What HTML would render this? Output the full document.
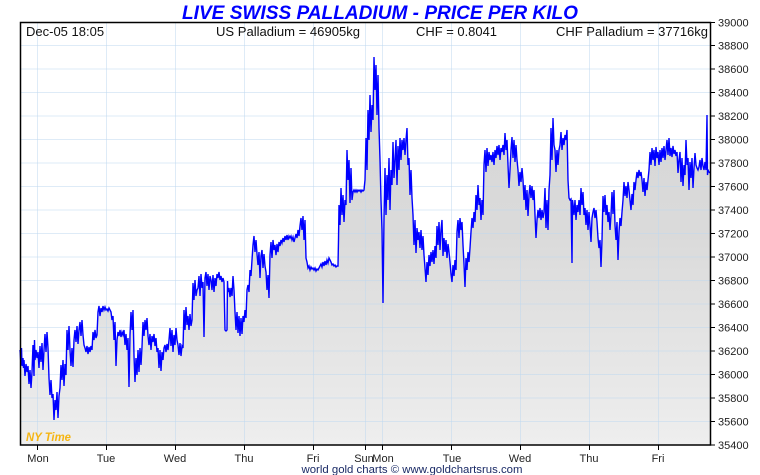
<!DOCTYPE html>
<html><head><meta charset="utf-8"><style>
html,body{margin:0;padding:0;background:#fff;}
svg{display:block;}
text{font-family:"Liberation Sans",Arial,sans-serif;}
</style></head><body>
<svg width="760" height="475" viewBox="0 0 760 475" xmlns="http://www.w3.org/2000/svg">
<defs>
<linearGradient id="g" gradientUnits="userSpaceOnUse" x1="0" y1="60" x2="0" y2="445">
<stop offset="0" stop-color="#d6d6d6"/>
<stop offset="0.45" stop-color="#dadada"/>
<stop offset="1" stop-color="#eeeeee"/>
</linearGradient>
</defs>
<rect width="760" height="475" fill="#fff"/>
<text x="380" y="19" text-anchor="middle" font-size="19" font-weight="bold" font-style="italic" fill="#0000ff" textLength="396" lengthAdjust="spacingAndGlyphs">LIVE SWISS PALLADIUM - PRICE PER KILO</text>

<polygon fill="url(#g)" points="20,445 20,350 21,365 21.5,348 22,366 23,358 23.5,368 24,360 25,376 26,364 27,372 28,366 29,384 30,370 31,388 32,372 33,345 34,376 34.5,340 35,360 36,350 37,358 38,352 39,368 40,346 41,362 42,343 43,370 44,350 45,334 46,352 47,332 48,348 49,378 50,395 51,380 52,398 53,394 54,420 55,400 56,410 57,392 58,418 59,396 60,388 61,365 62,380 63,360 64,386 65,364 66,375 67,330 68,350 69,326 70,350 71,366 72,348 73,367 74,340 75,330 76,342 77,326 78,344 79,330 80,322 81,336 82,320 83,335 84,345 85,348 86,352 87,346 88,354 89,347 90,352 91,346 92,350 93,332 94,340 95,330 96,338 97,335 98,312 99,306 100,316 101,308 102,312 103,306 104,310 105,307 106,310 107,309 108,311 109,308 110,310 111,312 112,320 113,316 114,340 115,322 116,366 117,340 118,332 119,336 120,330 121,337 122,332 123,335 124,330 125,345 126,334 127,350 128,338 129,387 130,335 131,312 132,330 133,310 134,356 135,382 136,358 137,375 138,350 139,372 140,348 141,365 142,347 143,322 144,336 145,320 146,330 147,318 148,336 149,345 150,334 151,350 152,336 153,342 154,334 155,346 156,338 157,352 158,348 159,368 160,350 161,371 162,352 163,360 164,348 165,345 166,352 167,344 168,350 169,340 170,328 171,346 172,330 173,352 174,335 175,345 176,328 177,340 178,345 179,355 180,343 181,356 182,346 183,348 184,310 185,330 186,307 187,325 188,316 189,330 190,314 191,326 192,320 193,283 194,300 195,280 196,296 197,290 198,288 199,276 200,296 201,274 202,288 203,282 204,337 205,278 206,272 207,286 208,274 209,290 210,276 211,280 212,290 213,275 214,292 215,278 216,286 217,274 218,278 219,272 220,280 221,276 222,282 223,278 224,282 225,330 226,331 227,330 227.5,281 228,292 229,288 230,297 231,288 232,296 233,276 234,290 235,312 236,330 237,312 238,333 239,316 240,336 241,318 242,334 243,316 244,322 245,310 246,318 247,290 248,285 249,292 250,270 251,276 252,260 253,245 254,236 255,252 256,240 257,254 258,265 259,252 260,278 261,256 262,250 263,268 264,254 265,266 266,272 267,290 268,275 269,298 270,255 271,242 272,258 273,240 274,250 275,245 276,255 277,244 278,252 279,242 280,246 281,240 282,243 283,238 284,242 285,236 286,240 287,235 288,240 289,236 290,238 291,236 292,240 293,237 294,242 295,238 296,234 297,238 298,230 299,236 300,226 301,218 302,230 303,216 304,240 305,220 306,258 307,262 308,268 309,266 310,270 311,267 312,269 313,268 314,270 315,268 316,271 317,269 318,270 319,268 320,266 321,264 322,267 323,262 324,266 325,261 326,265 327,260 328,263 329,258 330,260 331,262 332,265 333,264 334,266 335,265 336,267 337,266 338,266 338.5,240 339,205 340,225 341,188 342,215 343,195 344,222 345,200 346,205 347,150 348,180 349,160 350,203 351,168 352,200 353,192 354,190 355,192 356,190 357,192 358,190 359,191 360,190 361,192 362,190 363,191 364,190 365,180 366,138 367,170 368,110 369,140 370,95 371,132 372,105 373,120 374,57 375,90 376,65 377,115 378,75 379,128 380,160 381,200 382,230 383,303 384,218 385,168 386,215 387,175 388,200 389,158 390,210 391,170 392,185 393,142 394,178 395,160 396,140 397,185 398,146 399,170 400,138 401,160 402,140 403,150 404,138 405,155 406,140 407,128 408,165 409,158 410,195 411,170 412,198 413,215 414,245 415,220 416,253 417,228 418,240 419,232 420,248 421,230 422,250 423,236 424,255 425,268 426,282 427,262 428,275 429,255 430,266 431,252 432,262 433,250 434,264 435,246 436,258 437,226 438,245 439,222 440,250 441,230 442,220 443,256 444,238 445,252 446,240 447,258 448,244 449,252 450,262 451,274 452,282 453,265 454,276 455,260 456,270 457,232 458,220 459,238 460,218 461,230 462,222 463,245 464,264 465,287 466,258 467,270 468,252 469,262 470,248 471,232 472,218 473,228 474,212 475,222 476,195 477,210 478,185 479,205 480,198 481,220 482,200 483,215 484,165 485,150 486,172 487,148 488,166 489,152 490,160 491,155 492,162 493,152 494,165 495,150 496,158 497,146 498,155 499,145 500,160 501,148 502,152 503,145 504,155 505,133 506,150 507,140 508,165 509,188 510,170 511,150 512,137 513,158 514,140 515,162 516,145 517,160 518,170 519,186 520,172 521,182 522,168 523,180 524,200 525,185 526,210 527,190 528,216 529,195 530,185 531,198 532,186 533,200 534,190 535,215 536,238 537,220 538,210 539,218 540,208 541,220 542,210 543,218 544,212 545,188 546,228 547,200 548,230 549,190 550,175 551,128 552,160 553,118 554,145 555,150 556,172 557,150 558,165 559,150 560,145 561,132 562,150 563,138 564,145 565,135 566,140 567,130 568,180 569,198 570,200 571,199 572,263 572.5,200 573,204 574,215 575,200 576,220 577,205 578,212 579,200 580,215 581,188 582,205 583,192 584,215 585,208 586,225 587,210 588,230 589,212 590,226 591,242 592,218 593,212 594,208 595,218 596,210 597,222 598,238 599,248 600,240 601,267 602,240 603,196 604,212 605,195 606,215 607,205 608,222 609,212 610,230 611,215 612,192 613,214 614,190 615,225 616,240 617,222 618,260 619,232 620,218 621,226 622,212 623,200 624,182 625,196 626,186 627,198 628,182 629,190 630,200 631,210 632,194 633,205 634,182 635,190 636,180 637,172 638,178 639,170 640,176 641,172 642,180 643,192 644,178 645,196 646,182 647,190 648,180 649,170 650,152 651,165 652,148 653,160 654,150 655,166 656,147 657,158 658,152 659,165 660,150 661,162 662,148 663,158 664,146 665,160 666,150 667,140 668,155 669,138 670,156 671,148 672,157 673,146 674,154 675,150 676,156 677,152 678,173 679,160 680,152 681,182 682,158 683,186 684,165 685,175 686,140 687,165 688,158 689,190 690,162 691,178 692,158 693,188 694,168 695,153 696,165 697,168 698,170 699,167 700,160 701,170 702,158 703,166 704,170 705,162 706,170 707,115 707.5,175 708,170 709,172 710,173 710,445"/>

<g stroke="rgba(190,215,240,0.5)" stroke-width="1">
<line x1="20" y1="45.5" x2="710" y2="45.5"/>
<line x1="20" y1="69" x2="710" y2="69"/>
<line x1="20" y1="92.5" x2="710" y2="92.5"/>
<line x1="20" y1="116" x2="710" y2="116"/>
<line x1="20" y1="139.5" x2="710" y2="139.5"/>
<line x1="20" y1="163" x2="710" y2="163"/>
<line x1="20" y1="186.5" x2="710" y2="186.5"/>
<line x1="20" y1="210" x2="710" y2="210"/>
<line x1="20" y1="233.5" x2="710" y2="233.5"/>
<line x1="20" y1="257" x2="710" y2="257"/>
<line x1="20" y1="280.5" x2="710" y2="280.5"/>
<line x1="20" y1="304" x2="710" y2="304"/>
<line x1="20" y1="327.5" x2="710" y2="327.5"/>
<line x1="20" y1="351" x2="710" y2="351"/>
<line x1="20" y1="374.5" x2="710" y2="374.5"/>
<line x1="20" y1="398" x2="710" y2="398"/>
<line x1="20" y1="421.5" x2="710" y2="421.5"/>
<line x1="37.5" y1="22" x2="37.5" y2="445"/>
<line x1="106.5" y1="22" x2="106.5" y2="445"/>
<line x1="175.5" y1="22" x2="175.5" y2="445"/>
<line x1="244.5" y1="22" x2="244.5" y2="445"/>
<line x1="313.5" y1="22" x2="313.5" y2="445"/>
<line x1="365.5" y1="22" x2="365.5" y2="445"/>
<line x1="382.5" y1="22" x2="382.5" y2="445"/>
<line x1="451.5" y1="22" x2="451.5" y2="445"/>
<line x1="520.5" y1="22" x2="520.5" y2="445"/>
<line x1="589.5" y1="22" x2="589.5" y2="445"/>
<line x1="658.5" y1="22" x2="658.5" y2="445"/>
</g>

<polyline fill="none" stroke="#0000ff" stroke-width="1.4" stroke-linejoin="miter" points="20,350 21,365 21.5,348 22,366 23,358 23.5,368 24,360 25,376 26,364 27,372 28,366 29,384 30,370 31,388 32,372 33,345 34,376 34.5,340 35,360 36,350 37,358 38,352 39,368 40,346 41,362 42,343 43,370 44,350 45,334 46,352 47,332 48,348 49,378 50,395 51,380 52,398 53,394 54,420 55,400 56,410 57,392 58,418 59,396 60,388 61,365 62,380 63,360 64,386 65,364 66,375 67,330 68,350 69,326 70,350 71,366 72,348 73,367 74,340 75,330 76,342 77,326 78,344 79,330 80,322 81,336 82,320 83,335 84,345 85,348 86,352 87,346 88,354 89,347 90,352 91,346 92,350 93,332 94,340 95,330 96,338 97,335 98,312 99,306 100,316 101,308 102,312 103,306 104,310 105,307 106,310 107,309 108,311 109,308 110,310 111,312 112,320 113,316 114,340 115,322 116,366 117,340 118,332 119,336 120,330 121,337 122,332 123,335 124,330 125,345 126,334 127,350 128,338 129,387 130,335 131,312 132,330 133,310 134,356 135,382 136,358 137,375 138,350 139,372 140,348 141,365 142,347 143,322 144,336 145,320 146,330 147,318 148,336 149,345 150,334 151,350 152,336 153,342 154,334 155,346 156,338 157,352 158,348 159,368 160,350 161,371 162,352 163,360 164,348 165,345 166,352 167,344 168,350 169,340 170,328 171,346 172,330 173,352 174,335 175,345 176,328 177,340 178,345 179,355 180,343 181,356 182,346 183,348 184,310 185,330 186,307 187,325 188,316 189,330 190,314 191,326 192,320 193,283 194,300 195,280 196,296 197,290 198,288 199,276 200,296 201,274 202,288 203,282 204,337 205,278 206,272 207,286 208,274 209,290 210,276 211,280 212,290 213,275 214,292 215,278 216,286 217,274 218,278 219,272 220,280 221,276 222,282 223,278 224,282 225,330 226,331 227,330 227.5,281 228,292 229,288 230,297 231,288 232,296 233,276 234,290 235,312 236,330 237,312 238,333 239,316 240,336 241,318 242,334 243,316 244,322 245,310 246,318 247,290 248,285 249,292 250,270 251,276 252,260 253,245 254,236 255,252 256,240 257,254 258,265 259,252 260,278 261,256 262,250 263,268 264,254 265,266 266,272 267,290 268,275 269,298 270,255 271,242 272,258 273,240 274,250 275,245 276,255 277,244 278,252 279,242 280,246 281,240 282,243 283,238 284,242 285,236 286,240 287,235 288,240 289,236 290,238 291,236 292,240 293,237 294,242 295,238 296,234 297,238 298,230 299,236 300,226 301,218 302,230 303,216 304,240 305,220 306,258 307,262 308,268 309,266 310,270 311,267 312,269 313,268 314,270 315,268 316,271 317,269 318,270 319,268 320,266 321,264 322,267 323,262 324,266 325,261 326,265 327,260 328,263 329,258 330,260 331,262 332,265 333,264 334,266 335,265 336,267 337,266 338,266 338.5,240 339,205 340,225 341,188 342,215 343,195 344,222 345,200 346,205 347,150 348,180 349,160 350,203 351,168 352,200 353,192 354,190 355,192 356,190 357,192 358,190 359,191 360,190 361,192 362,190 363,191 364,190 365,180 366,138 367,170 368,110 369,140 370,95 371,132 372,105 373,120 374,57 375,90 376,65 377,115 378,75 379,128 380,160 381,200 382,230 383,303 384,218 385,168 386,215 387,175 388,200 389,158 390,210 391,170 392,185 393,142 394,178 395,160 396,140 397,185 398,146 399,170 400,138 401,160 402,140 403,150 404,138 405,155 406,140 407,128 408,165 409,158 410,195 411,170 412,198 413,215 414,245 415,220 416,253 417,228 418,240 419,232 420,248 421,230 422,250 423,236 424,255 425,268 426,282 427,262 428,275 429,255 430,266 431,252 432,262 433,250 434,264 435,246 436,258 437,226 438,245 439,222 440,250 441,230 442,220 443,256 444,238 445,252 446,240 447,258 448,244 449,252 450,262 451,274 452,282 453,265 454,276 455,260 456,270 457,232 458,220 459,238 460,218 461,230 462,222 463,245 464,264 465,287 466,258 467,270 468,252 469,262 470,248 471,232 472,218 473,228 474,212 475,222 476,195 477,210 478,185 479,205 480,198 481,220 482,200 483,215 484,165 485,150 486,172 487,148 488,166 489,152 490,160 491,155 492,162 493,152 494,165 495,150 496,158 497,146 498,155 499,145 500,160 501,148 502,152 503,145 504,155 505,133 506,150 507,140 508,165 509,188 510,170 511,150 512,137 513,158 514,140 515,162 516,145 517,160 518,170 519,186 520,172 521,182 522,168 523,180 524,200 525,185 526,210 527,190 528,216 529,195 530,185 531,198 532,186 533,200 534,190 535,215 536,238 537,220 538,210 539,218 540,208 541,220 542,210 543,218 544,212 545,188 546,228 547,200 548,230 549,190 550,175 551,128 552,160 553,118 554,145 555,150 556,172 557,150 558,165 559,150 560,145 561,132 562,150 563,138 564,145 565,135 566,140 567,130 568,180 569,198 570,200 571,199 572,263 572.5,200 573,204 574,215 575,200 576,220 577,205 578,212 579,200 580,215 581,188 582,205 583,192 584,215 585,208 586,225 587,210 588,230 589,212 590,226 591,242 592,218 593,212 594,208 595,218 596,210 597,222 598,238 599,248 600,240 601,267 602,240 603,196 604,212 605,195 606,215 607,205 608,222 609,212 610,230 611,215 612,192 613,214 614,190 615,225 616,240 617,222 618,260 619,232 620,218 621,226 622,212 623,200 624,182 625,196 626,186 627,198 628,182 629,190 630,200 631,210 632,194 633,205 634,182 635,190 636,180 637,172 638,178 639,170 640,176 641,172 642,180 643,192 644,178 645,196 646,182 647,190 648,180 649,170 650,152 651,165 652,148 653,160 654,150 655,166 656,147 657,158 658,152 659,165 660,150 661,162 662,148 663,158 664,146 665,160 666,150 667,140 668,155 669,138 670,156 671,148 672,157 673,146 674,154 675,150 676,156 677,152 678,173 679,160 680,152 681,182 682,158 683,186 684,165 685,175 686,140 687,165 688,158 689,190 690,162 691,178 692,158 693,188 694,168 695,153 696,165 697,168 698,170 699,167 700,160 701,170 702,158 703,166 704,170 705,162 706,170 707,115 707.5,175 708,170 709,172 710,173"/>

<rect x="20.5" y="22.5" width="690" height="422.5" fill="none" stroke="#000" stroke-width="1.5"/>

<g font-size="13" fill="#111">
<text x="26" y="36">Dec-05  18:05</text>
<text x="216" y="36" textLength="144" lengthAdjust="spacingAndGlyphs">US Palladium = 46905kg</text>
<text x="416" y="36" textLength="81" lengthAdjust="spacingAndGlyphs">CHF = 0.8041</text>
<text x="556" y="36" textLength="152" lengthAdjust="spacingAndGlyphs">CHF Palladium = 37716kg</text>
</g>

<g stroke="#000" stroke-width="1">
<line x1="710" y1="22.5" x2="715" y2="22.5"/>
<line x1="710" y1="45.5" x2="715" y2="45.5"/>
<line x1="710" y1="69" x2="715" y2="69"/>
<line x1="710" y1="92.5" x2="715" y2="92.5"/>
<line x1="710" y1="116" x2="715" y2="116"/>
<line x1="710" y1="139.5" x2="715" y2="139.5"/>
<line x1="710" y1="163" x2="715" y2="163"/>
<line x1="710" y1="186.5" x2="715" y2="186.5"/>
<line x1="710" y1="210" x2="715" y2="210"/>
<line x1="710" y1="233.5" x2="715" y2="233.5"/>
<line x1="710" y1="257" x2="715" y2="257"/>
<line x1="710" y1="280.5" x2="715" y2="280.5"/>
<line x1="710" y1="304" x2="715" y2="304"/>
<line x1="710" y1="327.5" x2="715" y2="327.5"/>
<line x1="710" y1="351" x2="715" y2="351"/>
<line x1="710" y1="374.5" x2="715" y2="374.5"/>
<line x1="710" y1="398" x2="715" y2="398"/>
<line x1="710" y1="421.5" x2="715" y2="421.5"/>
<line x1="710" y1="445" x2="715" y2="445"/>
<line x1="37.5" y1="445" x2="37.5" y2="450"/>
<line x1="106.5" y1="445" x2="106.5" y2="450"/>
<line x1="175.5" y1="445" x2="175.5" y2="450"/>
<line x1="244.5" y1="445" x2="244.5" y2="450"/>
<line x1="313.5" y1="445" x2="313.5" y2="450"/>
<line x1="365.5" y1="445" x2="365.5" y2="450"/>
<line x1="382.5" y1="445" x2="382.5" y2="450"/>
<line x1="451.5" y1="445" x2="451.5" y2="450"/>
<line x1="520.5" y1="445" x2="520.5" y2="450"/>
<line x1="589.5" y1="445" x2="589.5" y2="450"/>
<line x1="658.5" y1="445" x2="658.5" y2="450"/>
</g>

<g font-size="11" fill="#222">
<text x="718" y="26.5">39000</text>
<text x="718" y="49.5">38800</text>
<text x="718" y="73">38600</text>
<text x="718" y="96.5">38400</text>
<text x="718" y="120">38200</text>
<text x="718" y="143.5">38000</text>
<text x="718" y="167">37800</text>
<text x="718" y="190.5">37600</text>
<text x="718" y="214">37400</text>
<text x="718" y="237.5">37200</text>
<text x="718" y="261">37000</text>
<text x="718" y="284.5">36800</text>
<text x="718" y="308">36600</text>
<text x="718" y="331.5">36400</text>
<text x="718" y="355">36200</text>
<text x="718" y="378.5">36000</text>
<text x="718" y="402">35800</text>
<text x="718" y="425.5">35600</text>
<text x="718" y="449">35400</text>
</g>

<g font-size="11" fill="#222" text-anchor="middle">
<text x="38" y="462">Mon</text>
<text x="106" y="462">Tue</text>
<text x="175" y="462">Wed</text>
<text x="244" y="462">Thu</text>
<text x="313" y="462">Fri</text>
<text x="364" y="462">Sun</text>
<text x="383" y="462">Mon</text>
<text x="452" y="462">Tue</text>
<text x="520" y="462">Wed</text>
<text x="589" y="462">Thu</text>
<text x="658" y="462">Fri</text>
</g>

<text x="26" y="441" font-size="11.5" font-style="italic" font-weight="bold" fill="#f5b514" textLength="45" lengthAdjust="spacingAndGlyphs">NY Time</text>
<text x="412" y="473" font-size="11" text-anchor="middle" fill="#1a2a66" textLength="221" lengthAdjust="spacingAndGlyphs">world gold charts © www.goldchartsrus.com</text>
</svg>
</body></html>
